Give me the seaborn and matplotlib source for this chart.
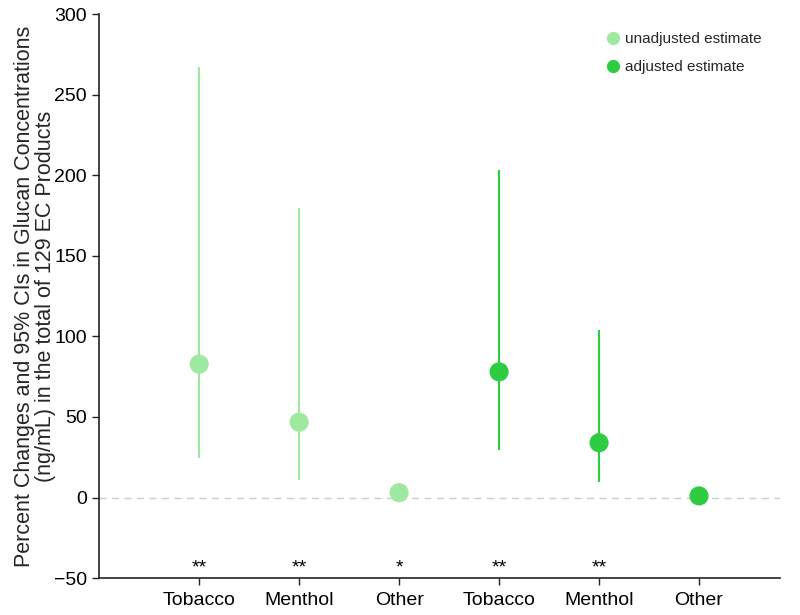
import matplotlib
matplotlib.use("Agg")
import matplotlib.pyplot as plt
import seaborn as sns
import pandas as pd
import numpy as np
from matplotlib.lines import Line2D

categories = ["Tobacco", "Menthol", "Other", "Tobacco", "Menthol", "Other"]
groups = ["unadjusted estimate"] * 3 + ["adjusted estimate"] * 3
estimates = [82.8, 46.8, 3.0, 78.0, 34.0, 1.0]
ci_lower = [24.5, 11.0, -2.0, 29.5, 9.6, -1.0]
ci_upper = [267.0, 180.0, 9.0, 203.0, 104.0, 3.0]
signif = ["**", "**", "*", "**", "**", ""]

palette = {"unadjusted estimate": "#9fe89f", "adjusted estimate": "#2ecc40"}

sns.set_theme(style="ticks")
plt.rcParams['font.family'] = ['Liberation Sans', 'DejaVu Sans']

pos = np.arange(1, len(categories) + 1)
df = pd.DataFrame({"pos": pos, "est": estimates, "lo": ci_lower, "hi": ci_upper,
                   "group": groups, "cat": categories, "sig": signif})

fig = plt.figure(figsize=(8, 6.15), dpi=100)
ax = fig.add_axes([0.124, 0.060, 0.851, 0.917])

ax.axhline(0, color="#cccccc", lw=1, ls=(0, (5, 4)), zorder=0)
for _, r in df.iterrows():
    ax.vlines(r["pos"], r["lo"], r["hi"], color=palette[r["group"]], lw=1.5, zorder=1)

sns.scatterplot(data=df, x="pos", y="est", hue="group", palette=palette,
                s=190, edgecolor="none", ax=ax, zorder=3, legend=False)

for _, r in df.iterrows():
    if r["sig"]:
        ax.text(r["pos"], -43.5, r["sig"], ha="center", va="center", fontsize=14, color="black")

ax.set_xlim(0, 6.81)
ax.set_ylim(-50, 300)
ax.set_yticks([-50, 0, 50, 100, 150, 200, 250, 300])
ax.set_yticklabels(["\u221250", "0", "50", "100", "150", "200", "250", "300"])
ax.set_xticks(pos)
ax.set_xticklabels(categories)
ax.tick_params(axis="both", labelsize=14, length=5, width=1, colors="#222222", labelcolor="black")
ax.tick_params(axis="x", pad=5)
ax.tick_params(axis="y", pad=4)
for s in ["top", "right"]:
    ax.spines[s].set_visible(False)
for s in ["left", "bottom"]:
    ax.spines[s].set_linewidth(1.2)
    ax.spines[s].set_color("#222222")

ax.set_xlabel("")
ax.set_ylabel("Percent Changes and 95% CIs in Glucan Concentrations\n(ng/mL) in the total of 129 EC Products",
              fontsize=15.5, labelpad=-2, linespacing=1.05)

handles = [Line2D([0], [0], marker="o", color="none", markerfacecolor=palette[g],
                  markeredgecolor="none", markersize=9.5, label=g)
           for g in ["unadjusted estimate", "adjusted estimate"]]
ax.legend(handles=handles, loc="upper right", bbox_to_anchor=(0.993, 0.992), frameon=False,
          fontsize=11, handletextpad=0.15, labelspacing=0.9, handlelength=1.2)

fig.savefig("out.png", dpi=100)
